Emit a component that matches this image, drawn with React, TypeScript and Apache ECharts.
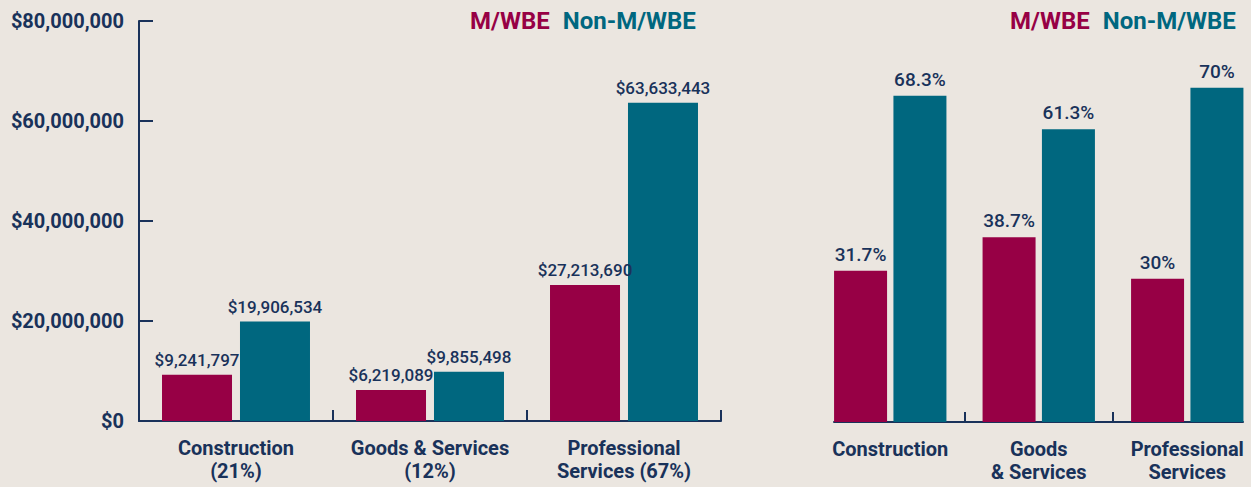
import React, { useEffect, useRef } from "react";
import * as echarts from "echarts";

const seriesNames = ["M/WBE", "Non-M/WBE"];
const dollarCategories = ["Construction\n(21%)", "Goods & Services\n(12%)", "Professional\nServices (67%)"];
const dollarMwbe = [9241797, 6219089, 27213690];
const dollarNon = [19906534, 9855498, 63633443];
const dollarTicks = [0, 20000000, 40000000, 60000000, 80000000];

const pctCategories = ["Construction", "Goods\n& Services", "Professional\nServices"];
const pctMwbe = [31.7, 38.7, 30];
const pctNon = [68.3, 61.3, 70];

const MAGENTA = "#970045";
const TEAL = "#00677f";
const NAVY = "#19325a";
const BG = "#ebe6e0";
const FONT = "Roboto";

const fmtMoney = (v: number) => "$" + Math.round(v).toLocaleString("en-US");

export default function App() {
  const ref = useRef<HTMLDivElement>(null);
  useEffect(() => {
    if (!ref.current) return;
    const chart = echarts.init(ref.current, undefined, { renderer: "svg" });
    const dataLabel = (fmt: (p: any) => string, dist: number, size: number) => ({
      show: true,
      position: "top",
      distance: dist,
      formatter: fmt,
      color: NAVY,
      fontFamily: FONT,
      fontSize: size,
      fontWeight: 500,
    });
    const legendBase = (left: number) => ({
      left,
      top: 4,
      icon: "none",
      itemWidth: 0,
      itemGap: 8,
      selectedMode: false,
      textStyle: { fontFamily: FONT, fontSize: 24, fontWeight: "bold" },
      data: [
        { name: seriesNames[0], textStyle: { color: MAGENTA } },
        { name: seriesNames[1], textStyle: { color: TEAL } },
      ],
    });
    const catLabel = {
      color: NAVY,
      fontFamily: FONT,
      fontSize: 20,
      fontWeight: "bold",
      lineHeight: 23,
      margin: 15,
      interval: 0,
    };
    chart.setOption({
      animation: false,
      backgroundColor: BG,
      legend: [legendBase(460), legendBase(1000)],
      grid: [
        { left: 139, right: 530, top: 21, bottom: 66, outerBoundsMode: "none" },
        { left: 816, width: 445.5, top: 40, bottom: 65, outerBoundsMode: "none" },
        { left: 834, right: 8, top: 40, bottom: 65, outerBoundsMode: "none" },
      ],
      xAxis: [
        {
          type: "category",
          gridIndex: 0,
          data: dollarCategories,
          axisLine: { show: true, lineStyle: { color: NAVY, width: 2 } },
          axisTick: { show: true, inside: true, length: 11, lineStyle: { color: NAVY, width: 2 } },
          axisLabel: catLabel,
        },
        {
          type: "category",
          gridIndex: 1,
          data: pctCategories,
          axisLine: { show: false },
          axisTick: {
            show: true,
            inside: true,
            length: 10,
            interval: (i: number) => i !== 0,
            lineStyle: { color: NAVY, width: 2 },
          },
          axisLabel: catLabel,
        },
        {
          type: "value",
          gridIndex: 2,
          min: 0,
          max: 1,
          axisLine: { show: true, onZero: false, lineStyle: { color: NAVY, width: 2 } },
          axisTick: { show: false },
          axisLabel: { show: false },
          splitLine: { show: false },
        },
      ],
      yAxis: [
        {
          type: "value",
          gridIndex: 0,
          min: dollarTicks[0],
          max: dollarTicks[dollarTicks.length - 1],
          interval: dollarTicks[1] - dollarTicks[0],
          axisLine: { show: true, lineStyle: { color: NAVY, width: 2 } },
          axisTick: { show: true, inside: true, length: 14, lineStyle: { color: NAVY, width: 2 } },
          splitLine: { show: false },
          axisLabel: {
            color: NAVY,
            fontFamily: FONT,
            fontSize: 20,
            fontWeight: "bold",
            margin: 15,
            formatter: (v: number) => fmtMoney(v),
          },
        },
        { type: "value", gridIndex: 1, min: 0, max: 80, show: false },
        { type: "value", gridIndex: 2, min: 0, max: 1, show: false },
      ],
      series: [
        {
          name: seriesNames[0],
          type: "bar",
          xAxisIndex: 0,
          yAxisIndex: 0,
          data: dollarMwbe,
          barWidth: 70,
          barGap: "11.4%",
          itemStyle: { color: MAGENTA },
          label: dataLabel((p) => fmtMoney(p.value), 6, 17),
        },
        {
          name: seriesNames[1],
          type: "bar",
          xAxisIndex: 0,
          yAxisIndex: 0,
          data: dollarNon,
          barWidth: 70,
          barGap: "11.4%",
          itemStyle: { color: TEAL },
          label: dataLabel((p) => fmtMoney(p.value), 6, 17),
        },
        {
          name: seriesNames[0],
          type: "bar",
          xAxisIndex: 1,
          yAxisIndex: 1,
          data: pctMwbe,
          barWidth: 53,
          barGap: "12%",
          itemStyle: { color: MAGENTA },
          label: dataLabel((p) => p.value + "%", 7, 19),
        },
        {
          name: seriesNames[1],
          type: "bar",
          xAxisIndex: 1,
          yAxisIndex: 1,
          data: pctNon,
          barWidth: 53,
          barGap: "12%",
          itemStyle: { color: TEAL },
          label: dataLabel((p) => p.value + "%", 7, 19),
        },
      ],
    });
    return () => chart.dispose();
  }, []);
  return (
    <div
      ref={ref}
      style={{ position: "absolute", left: 0, top: 0, width: 1251, height: 487, background: BG }}
    />
  );
}
